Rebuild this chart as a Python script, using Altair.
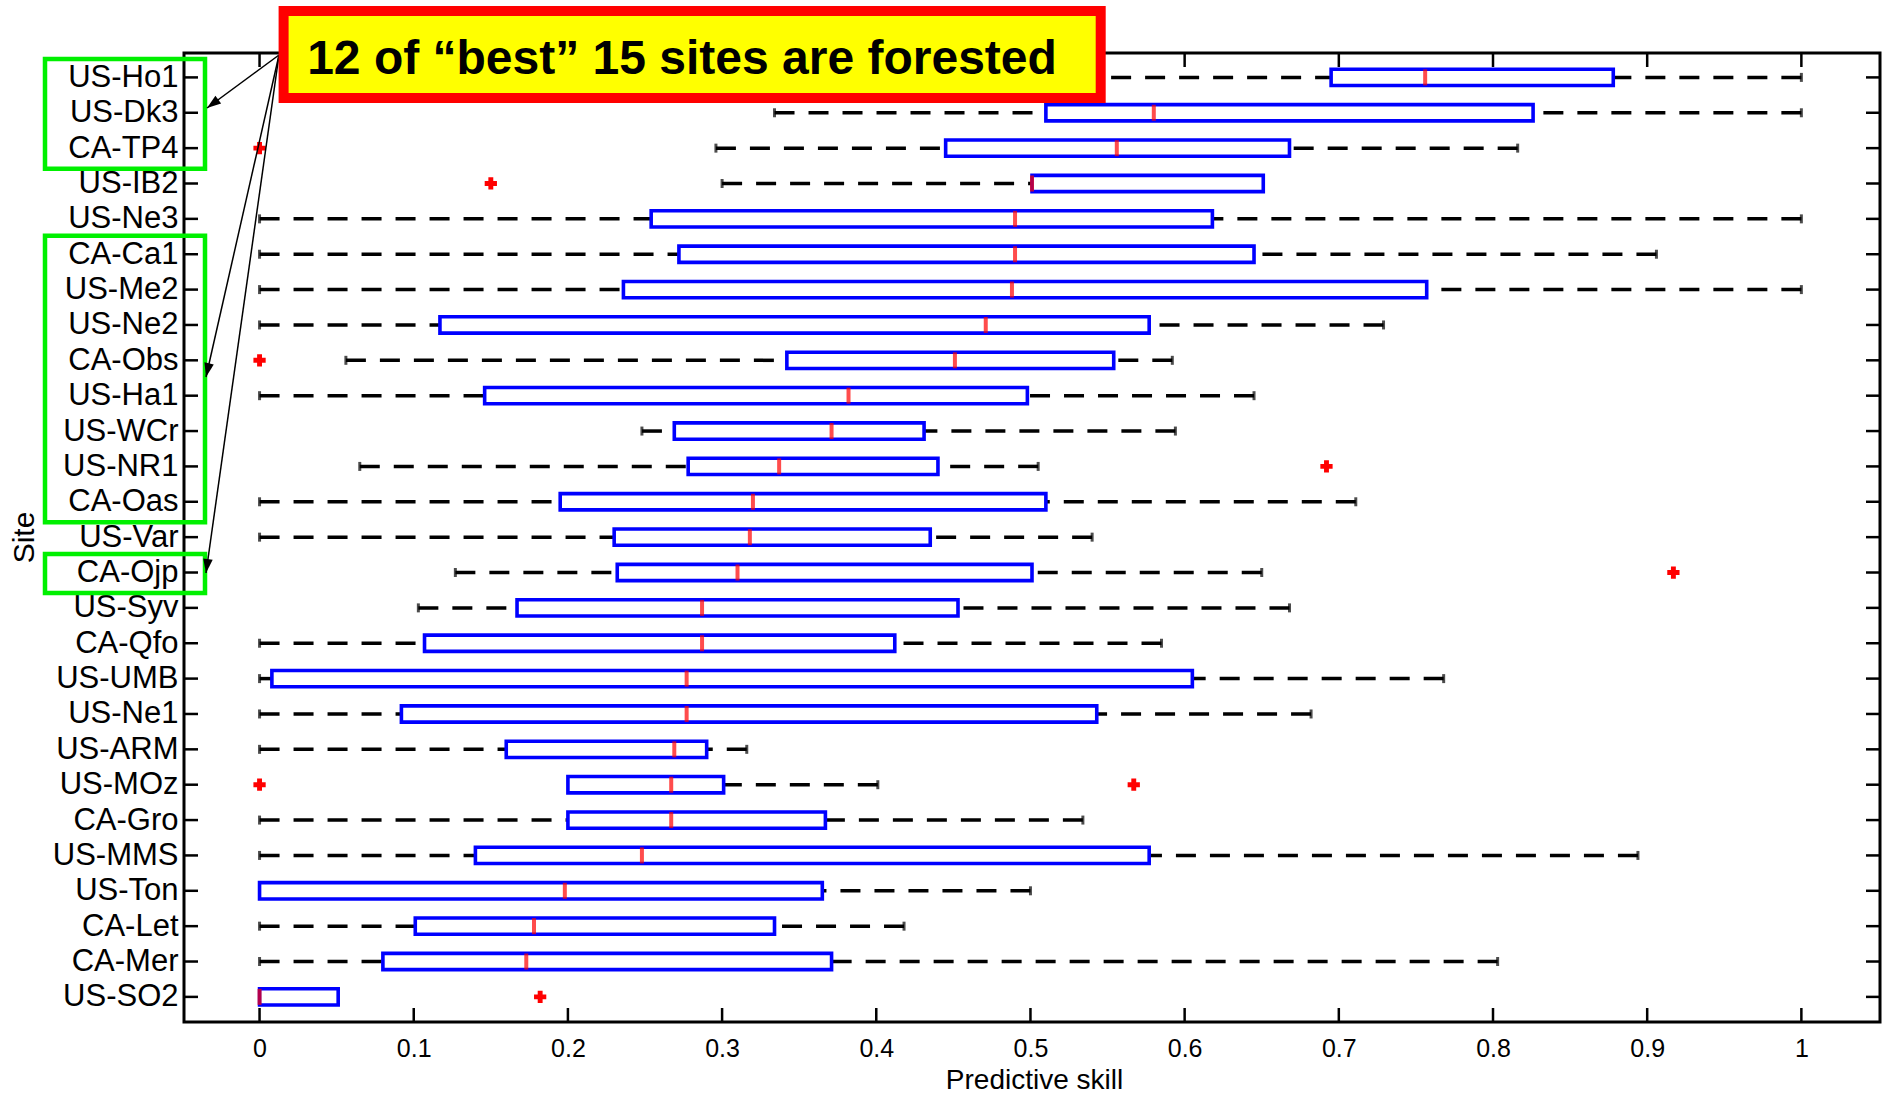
import math
import altair as alt
import pandas as pd

# ---------------- data ----------------
sites = ["US-Ho1", "US-Dk3", "CA-TP4", "US-IB2", "US-Ne3", "CA-Ca1", "US-Me2",
         "US-Ne2", "CA-Obs", "US-Ha1", "US-WCr", "US-NR1", "CA-Oas", "US-Var",
         "CA-Ojp", "US-Syv", "CA-Qfo", "US-UMB", "US-Ne1", "US-ARM", "US-MOz",
         "CA-Gro", "US-MMS", "US-Ton", "CA-Let", "CA-Mer", "US-SO2"]
whisker_low = [0.42, 0.334, 0.296, 0.300, 0.0, 0.0, 0.0, 0.0, 0.056, 0.0, 0.248,
               0.065, 0.0, 0.0, 0.127, 0.103, 0.0, 0.0, 0.0, 0.0, 0.200, 0.0,
               0.0, 0.0, 0.0, 0.0, 0.0]
q1 = [0.695, 0.510, 0.445, 0.501, 0.254, 0.272, 0.236, 0.117, 0.342, 0.146, 0.269,
      0.278, 0.195, 0.230, 0.232, 0.167, 0.107, 0.008, 0.092, 0.160, 0.200, 0.200,
      0.140, 0.0, 0.101, 0.080, 0.0]
median = [0.756, 0.580, 0.556, 0.501, 0.490, 0.490, 0.488, 0.471, 0.451, 0.382,
          0.371, 0.337, 0.320, 0.318, 0.310, 0.287, 0.287, 0.277, 0.277, 0.269,
          0.267, 0.267, 0.248, 0.198, 0.178, 0.173, 0.0]
q3 = [0.878, 0.826, 0.668, 0.651, 0.618, 0.645, 0.757, 0.577, 0.554, 0.498, 0.431,
      0.440, 0.510, 0.435, 0.501, 0.453, 0.412, 0.605, 0.543, 0.290, 0.301, 0.367,
      0.577, 0.365, 0.334, 0.371, 0.051]
whisker_high = [1.0, 1.0, 0.816, 0.651, 1.0, 0.906, 1.0, 0.729, 0.592, 0.645, 0.594,
                0.505, 0.711, 0.540, 0.650, 0.668, 0.585, 0.768, 0.682, 0.316,
                0.401, 0.534, 0.894, 0.500, 0.418, 0.803, 0.051]
outlier_sites = ["CA-TP4", "US-IB2", "CA-Obs", "US-NR1", "CA-Ojp", "US-MOz",
                 "US-MOz", "US-SO2"]
outlier_values = [0.0, 0.150, 0.0, 0.692, 0.917, 0.0, 0.567, 0.182]
x_ticks = [0, 0.1, 0.2, 0.3, 0.4, 0.5, 0.6, 0.7, 0.8, 0.9, 1]
x_title = "Predictive skill"
y_title = "Site"

# annotation content
forested_first = ["US-Ho1", "CA-Ca1", "CA-Ojp"]
forested_last = ["CA-TP4", "CA-Oas", "CA-Ojp"]
callout_text = "12 of \u201cbest\u201d 15 sites are forested"

# ---------------- layout (pixels) ----------------
W, H = 1696, 969
PAD = {"left": 184, "top": 53, "right": 10, "bottom": 72}
FONT = "Liberation Sans"
# annotation geometry relative to plot origin
callout_box = (99.6, -42, 916.7, 45)
callout_text_pos = (498, 21)
green_x = (-139, 21)
arrow_origin = (95, 2)
arrow_tips = [(23, 55), (22, 324), (22, 520)]

idx = {s: i + 1 for i, s in enumerate(sites)}

box_df = pd.DataFrame({
    "site": sites, "idx": [idx[s] for s in sites],
    "lo": whisker_low, "q1": q1, "med": median, "q3": q3, "hi": whisker_high,
})
box_df["ytop"] = box_df["idx"] - 0.23
box_df["ybot"] = box_df["idx"] + 0.23

wrows = []
for s, lo, a, b, hi in zip(sites, whisker_low, q1, q3, whisker_high):
    if lo < a:
        wrows.append({"idx": idx[s], "end": lo, "edge": a})
    if hi > b:
        wrows.append({"idx": idx[s], "end": hi, "edge": b})
whisk_df = pd.DataFrame(wrows)

out_df = pd.DataFrame({"idx": [idx[s] for s in outlier_sites], "v": outlier_values})
xt_df = pd.DataFrame({"v": x_ticks})
yt_df = pd.DataFrame({"idx": list(range(1, len(sites) + 1))})
grp_df = pd.DataFrame({
    "y1": [max(idx[a] - 0.52, 0.36) for a in forested_first],
    "y2": [idx[b] + 0.58 for b in forested_last],
})

label_expr = "[" + ",".join("'%s'" % s for s in sites) + "][datum.value - 1]"

X_SCALE = alt.Scale(domain=[-0.049, 1.051], nice=False, zero=False)
Y_SCALE = alt.Scale(domain=[0.31, 27.71], nice=False, zero=False, reverse=True)
X_AXIS = alt.Axis(values=x_ticks, format=".1~f", domain=False, ticks=False, tickSize=0,
                  grid=False, labelFontSize=25, labelPadding=14, labelFlush=False,
                  labelOverlap=False, labelColor="black", labelFont=FONT,
                  titleFontSize=28, titleFontWeight="normal", titleColor="black",
                  titleFont=FONT, titleX=850, titleY=66, titleBaseline="alphabetic",
                  titleAlign="center")
Y_AXIS = alt.Axis(values=list(range(1, len(sites) + 1)), labelExpr=label_expr,
                  domain=False, ticks=False, tickSize=0, grid=False,
                  labelFontSize=31, labelPadding=6, labelFlush=False,
                  labelOverlap=False, labelColor="black", labelFont=FONT,
                  titleFontSize=30, titleFontWeight="normal", titleColor="black",
                  titleFont=FONT, titleAngle=270, titleX=-160, titleY=484,
                  titleAlign="center", titleBaseline="middle")


def X(field):
    return alt.X(field, type="quantitative", scale=X_SCALE, axis=X_AXIS, title=x_title)


def Y(field):
    return alt.Y(field, type="quantitative", scale=Y_SCALE, axis=Y_AXIS, title=y_title)


whiskers = alt.Chart(whisk_df).mark_rule(
    color="black", strokeWidth=3.5, strokeDash=[20, 14]
).encode(x=X("end"), x2="edge:Q", y=Y("idx"))

caps = alt.Chart(whisk_df).mark_tick(
    orient="vertical", color="black", size=9, thickness=3
).encode(x=X("end"), y=Y("idx"))

boxes = alt.Chart(box_df).mark_rect(
    fill="white", stroke="#0000ff", strokeWidth=3.6
).encode(x=X("q1"), x2="q3:Q", y=Y("ytop"), y2="ybot:Q")

medians = alt.Chart(box_df).mark_tick(
    orient="vertical", color="#ff0000", size=16, thickness=4
).encode(x=X("med"), y=Y("idx"))

outliers = alt.Chart(out_df).mark_point(
    shape="cross", filled=True, color="#ff0000", size=150, opacity=1
).encode(x=X("v"), y=Y("idx"))

xt_bottom = alt.Chart(xt_df).mark_rule(color="black", strokeWidth=2.5).encode(
    x=X("v"), y=alt.value(H), y2=alt.value(H - 14))
xt_top = alt.Chart(xt_df).mark_rule(color="black", strokeWidth=2.5).encode(
    x=X("v"), y=alt.value(0), y2=alt.value(14))
yt_left = alt.Chart(yt_df).mark_rule(color="black", strokeWidth=2.5).encode(
    y=Y("idx"), x=alt.value(0), x2=alt.value(14))
yt_right = alt.Chart(yt_df).mark_rule(color="black", strokeWidth=2.5).encode(
    y=Y("idx"), x=alt.value(W - 14), x2=alt.value(W))

green = alt.Chart(grp_df).mark_rect(
    fillOpacity=0, stroke="#00f000", strokeWidth=4.5
).encode(y=Y("y1"), y2="y2:Q", x=alt.value(green_x[0]), x2=alt.value(green_x[1]))

one = pd.DataFrame({"t": [callout_text]})
layers = [whiskers, caps, boxes, medians, outliers, xt_bottom, xt_top, yt_left,
          yt_right, green]

# arrows
for tx, ty in arrow_tips:
    ox, oy = arrow_origin
    layers.append(alt.Chart(one).mark_rule(color="black", strokeWidth=1.5).encode(
        x=alt.value(ox), y=alt.value(oy), x2=alt.value(tx), y2=alt.value(ty)))
    dx, dy = tx - ox, ty - oy
    L = math.hypot(dx, dy)
    ux, uy = dx / L, dy / L
    ang = math.degrees(math.atan2(dx, -dy)) % 360
    r = 8.0
    layers.append(alt.Chart(one).mark_point(
        shape="M0,-1L0.6,0.75L-0.6,0.75Z", filled=True, color="black", opacity=1,
        size=(2 * r) ** 2, angle=ang, strokeWidth=0
    ).encode(x=alt.value(tx - r * ux), y=alt.value(ty - r * uy)))

callout = alt.Chart(one).mark_rect(
    fill="#ffff00", stroke="#ff0000", strokeWidth=10
).encode(x=alt.value(callout_box[0]), y=alt.value(callout_box[1]),
         x2=alt.value(callout_box[2]), y2=alt.value(callout_box[3]))
callout_label = alt.Chart(one).mark_text(
    font=FONT, fontSize=48, fontWeight="bold", color="black",
    align="center", baseline="alphabetic"
).encode(x=alt.value(callout_text_pos[0]), y=alt.value(callout_text_pos[1]), text="t:N")
layers += [callout, callout_label]

chart = alt.layer(*layers).properties(
    width=W, height=H,
    autosize=alt.AutoSizeParams(type="none"),
    padding=PAD,
    background="white",
).configure_view(stroke="black", strokeWidth=3)

chart.save("out.html", embed_options={"renderer": "svg", "actions": False})
